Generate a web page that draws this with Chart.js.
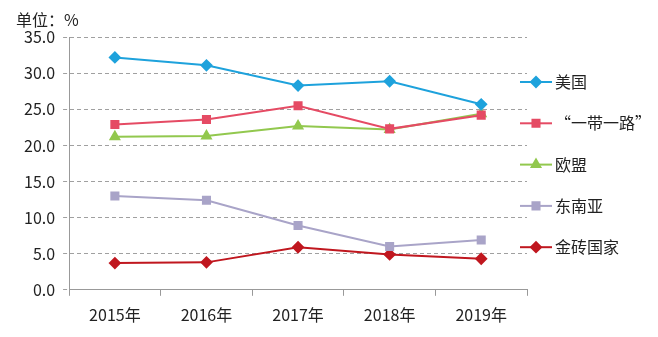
<!DOCTYPE html>
<html>
<head>
<meta charset="utf-8">
<script src="https://cdn.jsdelivr.net/npm/chart.js@4"></script>
<style>
  body { margin: 0; background: #fff; }
</style>
</head>
<body>
<canvas id="chart" width="658" height="337"></canvas>
<script>
const years = ["2015年", "2016年", "2017年", "2018年", "2019年"];
const seriesNames = ["美国", "\u201C一带一路\u201D", "欧盟", "东南亚", "金砖国家"];
const usa = [32.2, 31.1, 28.3, 28.9, 25.7];
const beltRoad = [22.9, 23.6, 25.5, 22.3, 24.2];
const eu = [21.2, 21.3, 22.7, 22.2, 24.4];
const seAsia = [13.0, 12.4, 8.9, 6.0, 6.9];
const brics = [3.7, 3.8, 5.9, 4.9, 4.3];

const colors = ["#1ea2dc", "#e54b64", "#92c84e", "#a9a4c8", "#c0171f"];
const pointStyles = ["rectRot", "rect", "triangle", "rect", "rectRot"];
const values = [usa, beltRoad, eu, seAsia, brics];

const fontFamily = "'Noto Sans CJK SC', 'Noto Sans', sans-serif";

// legend drawn on the right: a short line with the marker in the middle
const sideLegend = {
  id: "sideLegend",
  afterDraw(chart) {
    const ctx = chart.ctx;
    const area = chart.chartArea;
    chart.data.datasets.forEach(function (ds, i) {
      const y = 82 + i * 41.3;
      const x0 = area.right - 7;
      const x1 = x0 + 32;
      ctx.save();
      ctx.strokeStyle = ds.borderColor;
      ctx.lineWidth = 2;
      ctx.beginPath();
      ctx.moveTo(x0, y);
      ctx.lineTo(x1, y);
      ctx.stroke();
      Chart.helpers.drawPoint(ctx, {
        pointStyle: ds.pointStyle,
        radius: ds.pointRadius,
        rotation: 0,
        borderWidth: 1
      }, (x0 + x1) / 2, y);
      ctx.fillStyle = ds.backgroundColor;
      ctx.fill();
      ctx.fillStyle = "#222";
      ctx.font = "16px " + fontFamily;
      ctx.textBaseline = "middle";
      ctx.textAlign = "left";
      ctx.fillText(ds.label, x1 + 3, y);
      ctx.restore();
    });
  }
};

const ctx = document.getElementById("chart").getContext("2d");
new Chart(ctx, {
  type: "line",
  data: {
    labels: years,
    datasets: seriesNames.map(function (name, i) {
      return {
        label: name,
        data: values[i],
        borderColor: colors[i],
        backgroundColor: colors[i],
        borderWidth: 2,
        pointStyle: pointStyles[i],
        pointRadius: 5,
        pointHoverRadius: 5,
        tension: 0
      };
    })
  },
  options: {
    responsive: false,
    animation: false,
    layout: { padding: { left: 16, right: 131, top: 10, bottom: 2 } },
    plugins: {
      legend: { display: false },
      tooltip: { enabled: false },
      title: {
        display: true,
        text: "单位：%",
        align: "start",
        color: "#222",
        font: { family: fontFamily, size: 16, weight: "normal" },
        padding: { top: 0, bottom: 8 }
      }
    },
    scales: {
      x: {
        offset: true,
        grid: {
          offset: true,
          drawOnChartArea: false,
          drawTicks: true,
          tickLength: 6,
          color: "#999"
        },
        border: { color: "#999", width: 1 },
        ticks: {
          color: "#222",
          padding: 10,
          font: { family: fontFamily, size: 16 }
        }
      },
      y: {
        min: 0,
        max: 35,
        ticks: {
          stepSize: 5,
          color: "#222",
          padding: 8,
          font: { family: fontFamily, size: 16 },
          callback: function (v) { return v.toFixed(1); }
        },
        grid: {
          color: "#a0a0a0",
          tickLength: 6,
          tickBorderDash: [4, 3]
        },
        border: { color: "#999", width: 1, dash: [4, 3] }
      }
    }
  },
  plugins: [sideLegend]
});
</script>
</body>
</html>
